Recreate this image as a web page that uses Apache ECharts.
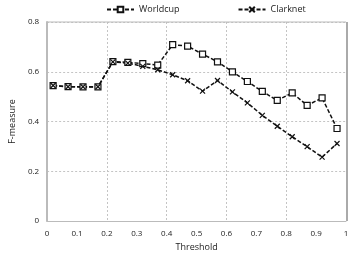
<!DOCTYPE html>
<html><head><meta charset="utf-8">
<script src="https://cdn.jsdelivr.net/npm/echarts@6/dist/echarts.min.js"></script>
<style>html,body{margin:0;padding:0;background:#fff}#c{width:360px;height:257px}</style>
</head><body><div id="c"></div>
<script>
const thresholds = [0.02,0.07,0.12,0.17,0.22,0.27,0.32,0.37,0.42,0.47,0.52,0.57,0.62,0.67,0.72,0.77,0.82,0.87,0.92,0.97];
const worldcup = [0.544,0.540,0.539,0.539,0.641,0.638,0.633,0.627,0.709,0.703,0.671,0.640,0.600,0.561,0.521,0.485,0.515,0.465,0.495,0.372];
const clarknet = [0.545,0.540,0.540,0.540,0.640,0.635,0.622,0.608,0.588,0.564,0.522,0.565,0.519,0.475,0.425,0.381,0.339,0.299,0.257,0.312];
const xTicks = [0,0.1,0.2,0.3,0.4,0.5,0.6,0.7,0.8,0.9,1];
const yTicks = [0,0.2,0.4,0.6,0.8];

const font = 'Open Sans';
const chart = echarts.init(document.getElementById('c'));
const pair = (xs, ys) => xs.map((x, i) => [x, ys[i]]);
const lineStyle = {color:'#111', width:1.5, type:[4,2]};
chart.setOption({
  animation:false,
  textStyle:{fontFamily:font},
  legend:{
    top:0, left:101, itemGap:58, itemWidth:27, itemHeight:7,
    textStyle:{fontSize:9, color:'#222', fontFamily:font},
    data:['Worldcup','Clarknet']
  },
  grid:{left:45, right:14, top:22, bottom:35},
  xAxis:[{
    type:'value', min:0, max:1, interval:0.1,
    name:'Threshold', nameLocation:'middle', nameGap:21,
    nameTextStyle:{fontSize:9, color:'#222', fontFamily:font},
    axisLine:{lineStyle:{color:'#bbb', width:1}},
    axisTick:{show:false},
    axisLabel:{fontSize:8, color:'#222', margin:9, formatter:v=>xTicks.includes(+v.toFixed(1))?String(+v.toFixed(1)):''},
    splitLine:{show:false}
  },{
    type:'value', min:0, max:1, interval:0.2, position:'bottom',
    axisLine:{show:false}, axisTick:{show:false}, axisLabel:{show:false},
    splitLine:{show:true, lineStyle:{color:'#c4c4c4', type:[2,2], width:1}}
  }],
  yAxis:{
    type:'value', min:0, max:0.8, interval:0.2,
    name:'F-measure', nameLocation:'middle', nameGap:29,
    nameTextStyle:{fontSize:9, color:'#222', fontFamily:font},
    axisLine:{show:true, lineStyle:{color:'#bbb', width:2}},
    axisTick:{show:false},
    axisLabel:{fontSize:8, color:'#222', margin:8, formatter:v=>{const t=+v.toFixed(1);return yTicks.includes(t)?String(t):'';}},
    splitLine:{show:true, lineStyle:{color:'#c4c4c4', type:[2,2], width:1}}
  },
  series:[{
    name:'Worldcup', type:'line', data:pair(thresholds, worldcup),
    symbol:'rect', symbolSize:6,
    itemStyle:{color:'#fff', borderColor:'#111', borderWidth:1.2},
    lineStyle:lineStyle
  },{
    name:'Clarknet', type:'line', data:pair(thresholds, clarknet),
    symbol:'path://M0,0L10,10M10,0L0,10', symbolSize:5,
    itemStyle:{color:'#111', borderColor:'#111', borderWidth:1.2},
    lineStyle:lineStyle
  }]
});
// frame: top and right borders
const r = chart.convertToPixel({xAxisIndex:0, yAxisIndex:0}, [1, 0.8]);
const o = chart.convertToPixel({xAxisIndex:0, yAxisIndex:0}, [0, 0]);
chart.setOption({graphic:[
  {type:'line', shape:{x1:o[0], y1:r[1], x2:r[0], y2:r[1]}, style:{stroke:'#bbb', lineWidth:1}},
  {type:'line', shape:{x1:r[0]+1, y1:r[1], x2:r[0]+1, y2:o[1]}, style:{stroke:'#aaa', lineWidth:2}}
]});
</script></body></html>
